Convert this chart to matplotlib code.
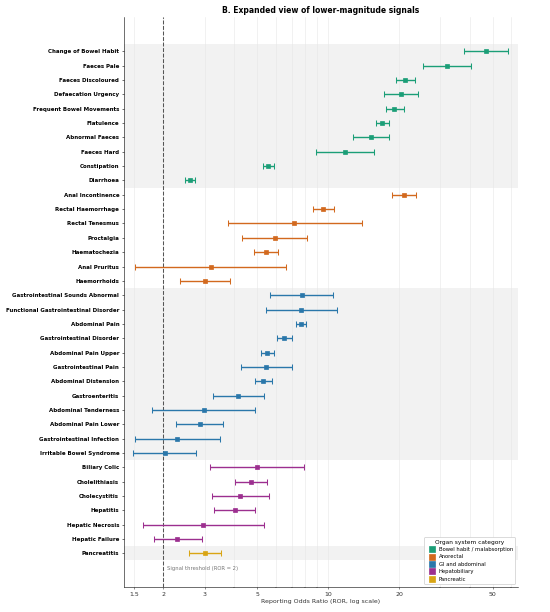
import numpy as np
import matplotlib
matplotlib.use("Agg")
import matplotlib.pyplot as plt
from matplotlib.ticker import NullFormatter, FixedLocator, LogLocator
from matplotlib.lines import Line2D

# Signals (top to bottom)
terms = [
    "Change of Bowel Habit", "Faeces Pale", "Faeces Discoloured", "Defaecation Urgency",
    "Frequent Bowel Movements", "Flatulence", "Abnormal Faeces", "Faeces Hard",
    "Constipation", "Diarrhoea",
    "Anal Incontinence", "Rectal Haemorrhage", "Rectal Tenesmus", "Proctalgia",
    "Haematochezia", "Anal Pruritus", "Haemorrhoids",
    "Gastrointestinal Sounds Abnormal", "Functional Gastrointestinal Disorder",
    "Abdominal Pain", "Gastrointestinal Disorder", "Abdominal Pain Upper",
    "Gastrointestinal Pain", "Abdominal Distension", "Gastroenteritis",
    "Abdominal Tenderness", "Abdominal Pain Lower", "Gastrointestinal Infection",
    "Irritable Bowel Syndrome",
    "Biliary Colic", "Cholelithiasis", "Cholecystitis", "Hepatitis",
    "Hepatic Necrosis", "Hepatic Failure",
    "Pancreatitis",
]
ror = [47.0, 31.9, 21.2, 20.4, 19.1, 17.0, 15.2, 11.8, 5.57, 2.59,
       21.0, 9.55, 7.19, 5.93, 5.45, 3.17, 2.99,
       7.72, 7.70, 7.68, 6.50, 5.52, 5.47, 5.29, 4.14, 2.96, 2.85, 2.29, 2.03,
       4.97, 4.69, 4.22, 4.01, 2.94, 2.29,
       3.00]
ci_low = [37.9, 25.2, 19.4, 17.2, 17.6, 15.9, 12.8, 8.9, 5.27, 2.47,
          18.7, 8.63, 3.74, 4.32, 4.86, 1.52, 2.34,
          5.69, 5.43, 7.31, 6.07, 5.20, 4.25, 4.88, 3.25, 1.79, 2.27, 1.52, 1.49,
          3.14, 4.01, 3.22, 3.27, 1.64, 1.82,
          2.56]
ci_high = [57.8, 40.4, 23.4, 24.0, 21.0, 18.1, 18.2, 15.7, 5.91, 2.71,
           23.7, 10.6, 13.9, 8.11, 6.10, 6.63, 3.85,
           10.5, 10.9, 8.06, 7.00, 5.87, 7.03, 5.78, 5.36, 4.89, 3.59, 3.47, 2.75,
           7.91, 5.48, 5.59, 4.91, 5.34, 2.91,
           3.52]
group_names = ["Bowel habit / malabsorption", "Anorectal", "GI and abdominal",
               "Hepatobiliary", "Pancreatic"]
group_sizes = [10, 7, 12, 6, 1]
group_colors = ["#1b9e77", "#d2691e", "#2a77aa", "#9c2f8f", "#d9a514"]

groups = np.repeat(np.arange(len(group_names)), group_sizes)
y = np.arange(len(terms))

fig = plt.figure(figsize=(11, 12.24), dpi=50)
ax = fig.add_axes([0.2255, 0.0413, 0.7163, 0.9307])

# alternating background bands per group
start = 0
for gi, n in enumerate(group_sizes):
    if gi % 2 == 0:
        ax.axhspan(start - 0.5, start + n - 0.5, color="#f2f2f2", zorder=0, lw=0)
    start += n

for gi, col in enumerate(group_colors):
    idx = np.where(groups == gi)[0]
    r = np.array(ror)[idx]
    lo = np.array(ci_low)[idx]
    hi = np.array(ci_high)[idx]
    ax.errorbar(r, y[idx], xerr=[r - lo, hi - r], fmt="s", color=col,
                ecolor=col, elinewidth=2.0, capsize=4, capthick=1.5,
                markersize=7, zorder=3)

ax.axvline(2, color="#555555", linestyle="--", linewidth=1.5, zorder=2)
ax.text(2.07, 36.05, "Signal threshold (ROR = 2)", fontsize=7.5, color="#777777",
        va="center", ha="left")

ax.set_xscale("log")
ax.set_xlim(1.36, 64)
ax.set_ylim(37.33, -2.39)
ax.xaxis.set_major_locator(FixedLocator([1.5, 2, 3, 5, 10, 20, 50]))
ax.set_xticklabels(["1.5", "2", "3", "5", "10", "20", "50"])
ax.xaxis.set_minor_locator(LogLocator(base=10, subs=np.arange(2, 10)))
ax.xaxis.set_minor_formatter(NullFormatter())
ax.tick_params(axis="x", labelsize=9, colors="#333333")
ax.grid(True, axis="x", which="both", color="#e6e6e6", linewidth=0.8, zorder=1)
ax.set_axisbelow(True)

ax.set_yticks(y)
ax.set_yticklabels(terms, fontsize=8, fontweight="bold")
ax.spines["top"].set_visible(False)
ax.spines["right"].set_visible(False)

ax.set_xlabel("Reporting Odds Ratio (ROR, log scale)", fontsize=9, color="#333333")
ax.set_title("B. Expanded view of lower-magnitude signals", fontsize=11,
             fontweight="bold", pad=6)

handles = [Line2D([0], [0], marker="s", linestyle="none", color=c, markersize=9)
           for c in group_colors]
leg = ax.legend(handles, group_names, title="Organ system category", loc="lower right",
                fontsize=7.5, title_fontsize=8.5, frameon=True, framealpha=1,
                handletextpad=0.3, borderpad=0.5, labelspacing=0.45,
                bbox_to_anchor=(1.0, 0.0))
leg.get_frame().set_edgecolor("#cccccc")

fig.savefig("out.png", dpi=50)
